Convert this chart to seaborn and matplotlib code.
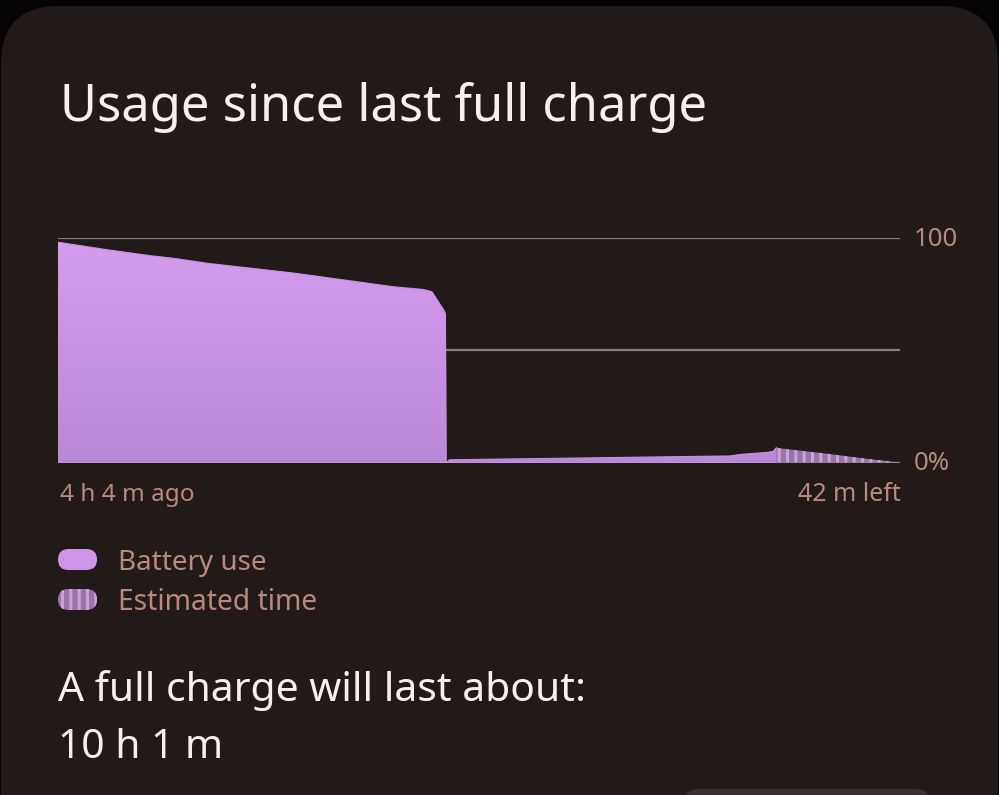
import numpy as np
import pandas as pd
import seaborn as sns
import matplotlib.pyplot as plt
from matplotlib.patches import FancyBboxPatch
from matplotlib.colors import LinearSegmentedColormap

# battery level (%) vs minutes relative to now
used_minutes = [-244, -227, -212, -205, -193, -164, -130, -120, -117, -113, -112.4, -112.2,
                -111, -100, -50, -16, -12, -3, -1, 0]
used_level = [97.9, 94.5, 91.8, 90.8, 88.5, 84.2, 78.1, 76.9, 75.9, 67.8, 66.0, 0.0,
              1.2, 1.4, 2.3, 2.9, 3.6, 4.5, 5.0, 6.6]
est_minutes = [0, 3, 16, 31, 42]
est_level = [6.6, 6.0, 4.1, 1.6, 0.0]

y_ticks = [0, 50, 100]
y_tick_labels = ['0%', '', '100']
x_labels = ['4 h 4 m ago', '42 m left']
legend_labels = ['Battery use', 'Estimated time']
title = 'Usage since last full charge'
footer = ['A full charge will last about:', '10 h 1 m']

used_df = pd.DataFrame({'t': used_minutes, 'level': used_level})
est_df = pd.DataFrame({'t': est_minutes, 'level': est_level})

sns.set_theme(style='dark', rc={'hatch.linewidth': 2.2})
plt.rcParams['font.family'] = ['Noto Sans', 'DejaVu Sans']

W, H = 999, 795
fig = plt.figure(figsize=(W / 100, H / 100), dpi=100)
fig.patch.set_facecolor('#050303')

# overlay in pixel coordinates for card, texts and legend
bg = fig.add_axes([0, 0, 1, 1])
bg.set_xlim(0, W)
bg.set_ylim(H, 0)
bg.axis('off')
bg.add_patch(FancyBboxPatch((1, 6), 997, 900, boxstyle='round,pad=0,rounding_size=58',
                            facecolor='#221a19', edgecolor='none'))
bg.add_patch(FancyBboxPatch((682, 789), 250, 40, boxstyle='round,pad=0,rounding_size=18',
                            facecolor='#3a312f', edgecolor='none'))

txt_col = '#b88a7e'
bg.text(60, 121, title, color='#f5f1ef', fontsize=36.5, va='baseline', ha='left')
bg.text(60, 501, x_labels[0], color=txt_col, fontsize=17.5, va='baseline', ha='left')
bg.text(901, 501, x_labels[1], color=txt_col, fontsize=18, va='baseline', ha='right')
bg.text(118, 570, legend_labels[0], color=txt_col, fontsize=20, va='baseline', ha='left')
bg.text(118, 610, legend_labels[1], color=txt_col, fontsize=20.3, va='baseline', ha='left')
bg.text(58, 701, footer[0], color='#f5f1ef', fontsize=29.4, va='baseline', ha='left')
bg.text(58, 758, footer[1], color='#f5f1ef', fontsize=29.4, va='baseline', ha='left')

bg.add_patch(FancyBboxPatch((58, 549), 39, 21, boxstyle='round,pad=0,rounding_size=10.5',
                            facecolor='#cf93e8', edgecolor='none'))
bg.add_patch(FancyBboxPatch((58, 589), 39, 21, boxstyle='round,pad=0,rounding_size=10.5',
                            facecolor='#9b73ad', edgecolor='#c9a3da', linewidth=0, hatch='||'))

# chart axes
left, right, top, bottom = 58, 900, 237.5, 462.5
ax = fig.add_axes([left / W, 1 - bottom / H, (right - left) / W, (bottom - top) / H])
ax.set_facecolor('none')
for s in ax.spines.values():
    s.set_visible(False)
ax.set_xticks([])
ax.set_yticks([])
for yv in y_ticks:
    ax.axhline(yv, color='#857e7c', linewidth=1.6, zorder=1)

poly = ax.fill_between(used_df['t'], used_df['level'], 0, color='#c68ee0', linewidth=0, zorder=2)
grad = np.linspace(0, 1, 256).reshape(-1, 1)
cmap = LinearSegmentedColormap.from_list('batt', ['#d69bee', '#ba88d8'])
im = ax.imshow(grad, cmap=cmap, aspect='auto', extent=[-244, 42, 0, 100], origin='upper', zorder=3)
im.set_clip_path(poly.get_paths()[0], transform=ax.transData)
sns.lineplot(data=used_df, x='t', y='level', ax=ax, color='#c990e2', linewidth=0.8, zorder=4)

ax.fill_between(est_df['t'], est_df['level'], 0, facecolor='#9a75ac', edgecolor='#c7a4d8',
                linewidth=0, hatch='||', zorder=3)
ax.set_xlim(-244, 42)
ax.set_ylim(0, 100)
ax.set_xlabel('')
ax.set_ylabel('')

tick_base = {100: 246, 0: 470}
for yv, lab in zip(y_ticks, y_tick_labels):
    if lab:
        bg.text(914, tick_base[yv], lab, color=txt_col, fontsize=18.5, va='baseline', ha='left')

fig.savefig('out.png', dpi=100, facecolor=fig.get_facecolor())
